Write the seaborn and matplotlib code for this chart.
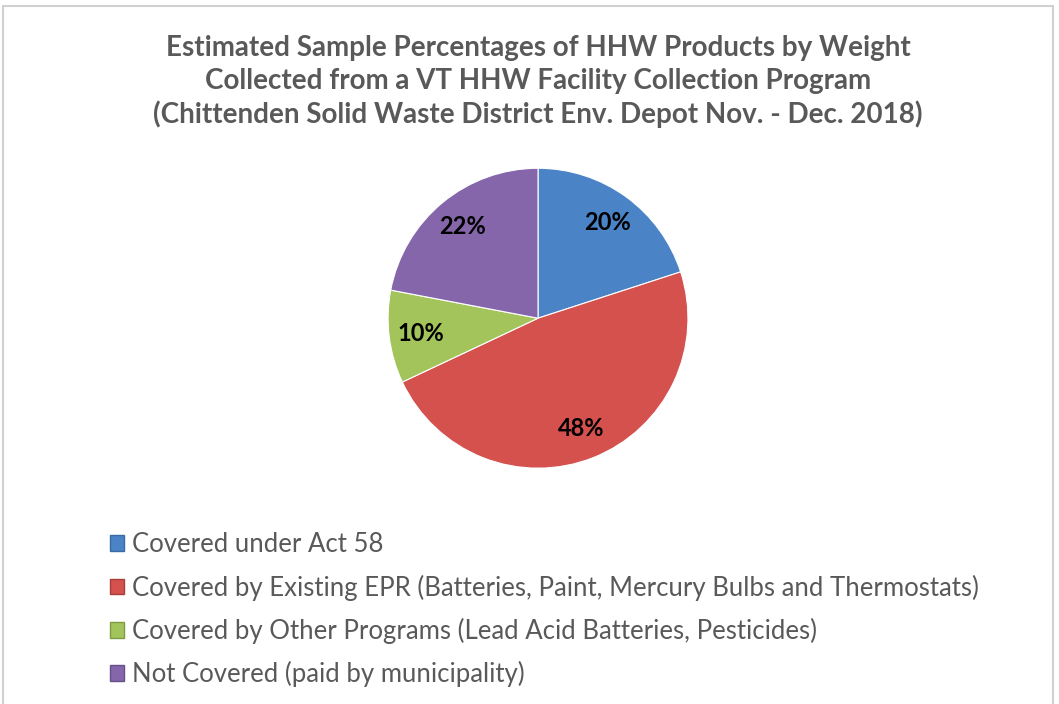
import matplotlib
matplotlib.use("Agg")
import matplotlib.pyplot as plt
import seaborn as sns
from matplotlib.patches import Patch, Rectangle

categories = [
    "Covered under Act 58",
    "Covered by Existing EPR (Batteries, Paint, Mercury Bulbs and Thermostats)",
    "Covered by Other Programs (Lead Acid Batteries, Pesticides)",
    "Not Covered (paid by municipality)",
]
values = [20, 48, 10, 22]
colors = ["#4a84c6", "#d4514d", "#a3c45a", "#8566ab"]
edge_colors = ["#3a6aa3", "#a83e3b", "#7f9a45", "#66508a"]
title_lines = [
    "Estimated Sample Percentages of HHW Products by Weight",
    "Collected from a VT HHW Facility Collection Program",
    "(Chittenden Solid Waste District Env. Depot Nov. - Dec. 2018)",
]

sns.set_theme(style="white")
plt.rcParams["font.family"] = ["Lato", "DejaVu Sans"]

fig = plt.figure(figsize=(10.59, 7.04), dpi=100)
fig.patch.set_facecolor("white")

# frame
fig.add_artist(Rectangle((3 / 1059, -0.05), 1050 / 1059, 1.05 - 6 / 704,
                         transform=fig.transFigure, fill=False,
                         edgecolor="#d0d0d0", linewidth=1.5))

ax = fig.add_axes([0.508 - 0.1416, 0.548 - 0.213, 0.2833, 0.426])
wedges, texts, autotexts = ax.pie(
    values, colors=colors, startangle=90, counterclock=False,
    autopct=lambda p: f"{p:.0f}%", pctdistance=0.79,
    wedgeprops=dict(linewidth=0.8, edgecolor="white"),
    textprops=dict(fontsize=17, fontweight="bold", color="black"),
)
ax.set_aspect("equal")
ax.set_xlim(-1, 1)
ax.set_ylim(-1, 1)
ax.axis("off")

for i, line in enumerate(title_lines):
    fig.text(0.508, 1 - (48 + 33 * i) / 704, line, ha="center", va="center",
             fontsize=20, fontweight="bold", color="#595959")

handles = [Patch(facecolor=c, edgecolor=e, linewidth=1) for c, e in zip(colors, edge_colors)]
leg = fig.legend(handles, categories, loc="upper left",
                 bbox_to_anchor=(100 / 1059, 1 - 522 / 704),
                 frameon=False, fontsize=18.5, labelcolor="#595959",
                 handlelength=0.55, handleheight=0.55, handletextpad=0.3,
                 labelspacing=0.67, borderaxespad=0)

fig.savefig("out.png", dpi=100, facecolor="white")
